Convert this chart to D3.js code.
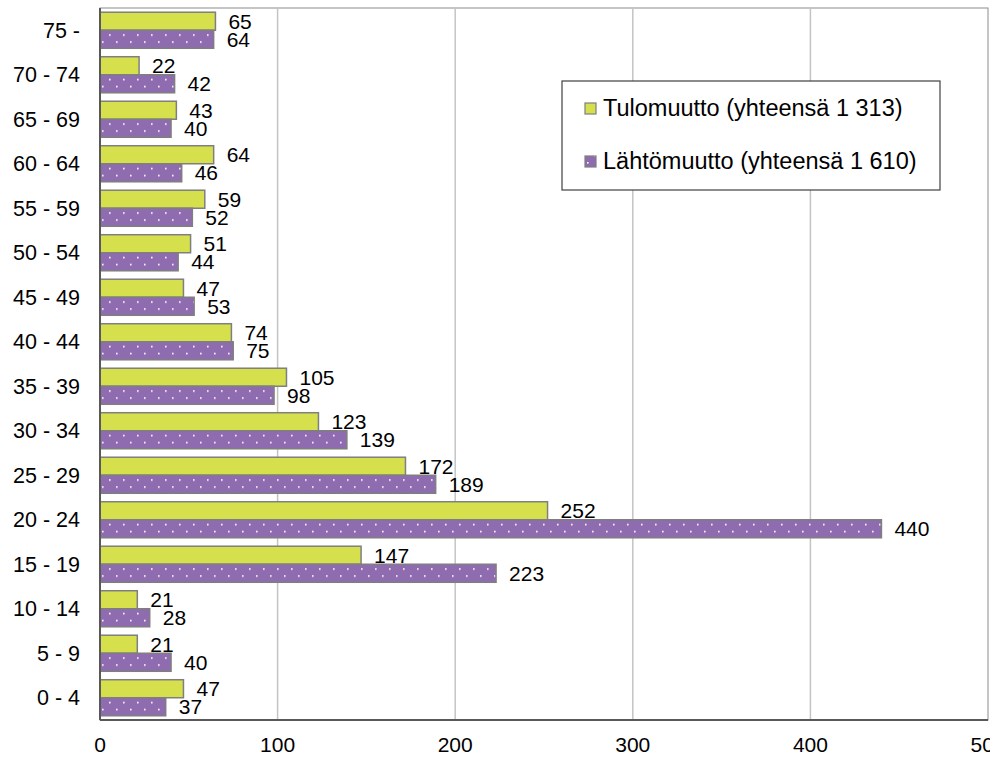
<!DOCTYPE html>
<html>
<head>
<meta charset="utf-8">
<script src="https://cdn.jsdelivr.net/npm/d3@7"></script>
<style>
  body { margin: 0; background: #fff; }
  svg text { font-family: "Liberation Sans", Arial, sans-serif; fill: #000; }
</style>
</head>
<body>
<svg id="chart" width="990" height="757"></svg>
<script>
  //begin: data
  var ageGroups = ["0 - 4", "5 - 9", "10 - 14", "15 - 19", "20 - 24", "25 - 29", "30 - 34", "35 - 39",
                   "40 - 44", "45 - 49", "50 - 54", "55 - 59", "60 - 64", "65 - 69", "70 - 74", "75 -"];
  var tuloValues  = [47, 21, 21, 147, 252, 172, 123, 105, 74, 47, 51, 59, 64, 43, 22, 65];
  var lahtoValues = [37, 40, 28, 223, 440, 189, 139, 98, 75, 53, 44, 52, 46, 40, 42, 64];
  var seriesNames = ["Tulomuutto (yhteensä 1 313)", "Lähtömuutto (yhteensä 1 610)"];
  var xTicks = [0, 100, 200, 300, 400, 500];
  //end: data

  //begin: layout conf.
  var margin = {top: 8, left: 100},
      width = 888,
      height = 712,
      fontSize = 21;
  //end: layout conf.

  var svg = d3.select("#chart");

  var defs = svg.append("defs");
  var pat = defs.append("pattern")
    .attr("id", "dots")
    .attr("patternUnits", "userSpaceOnUse")
    .attr("width", 14).attr("height", 14);
  pat.append("rect").attr("width", 14).attr("height", 14).attr("fill", "#8f6bb0");
  pat.append("rect").attr("x", 2).attr("y", 1).attr("width", 1.6).attr("height", 1.6).attr("fill", "#fff");
  pat.append("rect").attr("x", 9).attr("y", 8).attr("width", 1.6).attr("height", 1.6).attr("fill", "#fff");

  var rows = ageGroups.map(function(g, i) {
    return {group: g, values: [tuloValues[i], lahtoValues[i]]};
  });

  var x = d3.scaleLinear().domain([0, 500]).range([0, width]);
  var y = d3.scaleBand()
    .domain(ageGroups.slice().reverse())
    .range([0, height])
    .paddingInner(0.19)
    .paddingOuter(0.095);
  var ySub = d3.scaleBand().domain([0, 1]).range([0, y.bandwidth()]);
  var fills = ["#d5e04c", "url(#dots)"];

  var g = svg.append("g").attr("transform", "translate(" + [margin.left, margin.top] + ")");

  // plot area frame + gridlines
  g.append("rect")
    .attr("width", width).attr("height", height)
    .attr("fill", "none").attr("stroke", "#8c8c8c").attr("stroke-width", 1);
  g.selectAll(".grid")
    .data(xTicks.filter(function(t){ return t > 0 && t < 500; }))
    .enter().append("line")
      .attr("x1", x).attr("x2", x)
      .attr("y1", 0).attr("y2", height)
      .attr("stroke", "#c4c4c4").attr("stroke-width", 1.5);

  // bars
  var grp = g.selectAll(".grp")
    .data(rows)
    .enter().append("g")
      .attr("transform", function(d){ return "translate(0," + y(d.group) + ")"; });

  grp.selectAll("rect")
    .data(function(d){ return d.values; })
    .enter().append("rect")
      .attr("x", 0)
      .attr("y", function(d, i){ return ySub(i); })
      .attr("width", function(d){ return x(d); })
      .attr("height", ySub.bandwidth())
      .attr("fill", function(d, i){ return fills[i]; })
      .attr("stroke", "#7f7f7f")
      .attr("stroke-width", 1.5);

  grp.selectAll("text")
    .data(function(d){ return d.values; })
    .enter().append("text")
      .attr("x", function(d){ return x(d) + 13; })
      .attr("y", function(d, i){ return ySub(i) + ySub.bandwidth() / 2; })
      .attr("dy", "0.35em")
      .style("font-size", fontSize + "px")
      .text(function(d){ return d; });

  // axes
  g.append("line")
    .attr("x1", 0).attr("x2", 0).attr("y1", 0).attr("y2", height)
    .attr("stroke", "#595959").attr("stroke-width", 2);
  g.append("line")
    .attr("x1", 0).attr("x2", width).attr("y1", height).attr("y2", height)
    .attr("stroke", "#595959").attr("stroke-width", 2);

  g.selectAll(".ylab")
    .data(ageGroups)
    .enter().append("text")
      .attr("x", -20)
      .attr("y", function(d){ return y(d) + y.bandwidth() / 2; })
      .attr("dy", "0.35em")
      .attr("text-anchor", "end")
      .style("font-size", "21.5px")
      .text(function(d){ return d; });

  g.selectAll(".xlab")
    .data(xTicks)
    .enter().append("text")
      .attr("x", x)
      .attr("y", height + 25)
      .attr("dy", "0.35em")
      .attr("text-anchor", "middle")
      .style("font-size", fontSize + "px")
      .text(function(d){ return d; });

  // legend
  var legend = svg.append("g").attr("transform", "translate(562,81)");
  legend.append("rect")
    .attr("width", 378).attr("height", 109)
    .attr("fill", "#fff").attr("stroke", "#404040").attr("stroke-width", 1.2);
  var item = legend.selectAll(".item")
    .data(seriesNames)
    .enter().append("g")
      .attr("transform", function(d, i){ return "translate(23," + (27 + i * 53) + ")"; });
  item.append("rect")
    .attr("x", 0).attr("y", -5).attr("width", 11).attr("height", 11)
    .attr("fill", function(d, i){ return fills[i]; })
    .attr("stroke", "#7f7f7f").attr("stroke-width", 1.2);
  item.append("text")
    .attr("x", 18)
    .attr("dy", "0.35em")
    .style("font-size", "23.5px")
    .text(function(d){ return d; });
</script>
</body>
</html>
